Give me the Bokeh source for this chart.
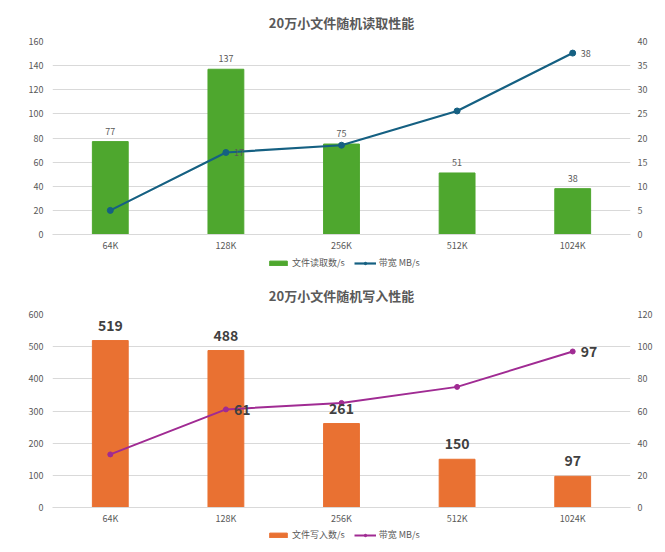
from bokeh.plotting import figure
from bokeh.models import (Range1d, LinearAxis, FixedTicker, Legend, LegendItem,
                          ColumnDataSource, FactorRange)
from bokeh.layouts import column
from bokeh.core.properties import value
from bokeh.embed import file_html
from bokeh.resources import INLINE

categories = ["64K", "128K", "256K", "512K", "1024K"]

read_title = "20万小文件随机读取性能"
read_ops = [77, 137, 75, 51, 38]
read_bw = [5, 17, 18.5, 25.6, 37.6]
read_bw_shown = [1, 4]
read_left_ticks = [0, 20, 40, 60, 80, 100, 120, 140, 160]
read_right_ticks = [0, 5, 10, 15, 20, 25, 30, 35, 40]
read_legend = ["文件读取数/s", "带宽 MB/s"]

write_title = "20万小文件随机写入性能"
write_ops = [519, 488, 261, 150, 97]
write_bw = [33, 61, 65, 75, 97]
write_bw_shown = [1, 4]
write_left_ticks = [0, 100, 200, 300, 400, 500, 600]
write_right_ticks = [0, 20, 40, 60, 80, 100, 120]
write_legend = ["文件写入数/s", "带宽 MB/s"]

FONT = "Noto Sans CJK SC"
GRID = "#d9d9d9"
TXT = "#595959"


def draw_series(p, src, bar_color, line_color, line_w, marker_size):
    bars = p.vbar(x="x", top="ops", width=0.31, source=src,
                  fill_color=bar_color, line_color=bar_color)
    ln = p.line(x="x", y="bw", source=src, y_range_name="bw",
                line_color=line_color, line_width=line_w)
    mk = p.scatter(x="x", y="bw", source=src, y_range_name="bw",
                   marker="circle", size=marker_size, fill_color=line_color,
                   line_color=line_color)
    return bars, ln, mk


def make_chart(title, ops, bw, shown, lticks, rticks, legend_labels,
               bar_color, line_color, height, top, bottom,
               lab_size, lab_style, lab_color, line_w, marker_size, standoff,
               bar_lab_off, leg_height, leg_y):
    p = figure(x_range=FactorRange(*categories, range_padding=0),
               y_range=Range1d(lticks[0], lticks[-1]),
               width=665, height=height, output_backend="svg",
               toolbar_location=None, min_border_left=52, min_border_right=35,
               min_border_top=top, min_border_bottom=bottom,
               background_fill_color="white", border_fill_color="white",
               outline_line_color=None)
    p.extra_y_ranges = {"bw": Range1d(rticks[0], rticks[-1])}

    p.title.text = title
    p.title.align = "center"
    p.title.text_font = FONT
    p.title.text_font_size = "13px"
    p.title.text_font_style = "bold"
    p.title.text_color = "#595959"
    p.title.standoff = standoff

    p.yaxis[0].ticker = FixedTicker(ticks=lticks)
    rax = LinearAxis(y_range_name="bw", ticker=FixedTicker(ticks=rticks))
    p.add_layout(rax, "right")
    for ax in [p.yaxis[0], rax, p.xaxis[0]]:
        ax.major_tick_line_color = None
        ax.minor_tick_line_color = None
        ax.major_tick_out = 0
        ax.major_tick_in = 0
        ax.minor_tick_out = 0
        ax.major_label_text_font = FONT
        ax.major_label_text_font_size = "9px"
        ax.major_label_text_color = TXT
    p.yaxis[0].axis_line_color = None
    rax.axis_line_color = None
    p.yaxis[0].major_label_standoff = 9
    rax.major_label_standoff = 7
    p.xaxis[0].axis_line_color = GRID
    p.xaxis[0].major_label_standoff = 4

    p.xgrid.grid_line_color = None
    p.ygrid.grid_line_color = GRID
    p.ygrid.grid_line_width = 1

    src = ColumnDataSource(dict(x=categories, ops=ops, bw=bw,
                                opslab=[str(v) for v in ops]))
    draw_series(p, src, bar_color, line_color, line_w, marker_size)
    p.text(x="x", y="ops", text="opslab", source=src, text_align="center",
           text_baseline="bottom", y_offset=bar_lab_off, text_font=value(FONT),
           text_font_size=lab_size, text_font_style=lab_style,
           text_color=lab_color)
    lsrc = ColumnDataSource(dict(x=[categories[i] for i in shown],
                                 y=[bw[i] for i in shown],
                                 t=[str(round(bw[i])) for i in shown]))
    p.text(x="x", y="y", text="t", source=lsrc, y_range_name="bw",
           x_offset=8, text_baseline="middle", text_align="left",
           text_font=value(FONT), text_font_size=lab_size,
           text_font_style=lab_style, text_color=lab_color)

    # legend strip below the chart: same series, drawn out of view
    q = figure(x_range=FactorRange(*categories, range_padding=0),
               y_range=Range1d(1000, 1001), width=665, height=leg_height,
               output_backend="svg", toolbar_location=None,
               x_axis_type=None, y_axis_type=None, min_border=0,
               background_fill_color="white", border_fill_color="white",
               outline_line_color=None)
    q.extra_y_ranges = {"bw": Range1d(1000, 1001)}
    q.xgrid.grid_line_color = None
    q.ygrid.grid_line_color = None
    bars, ln, mk = draw_series(q, src, bar_color, line_color, line_w,
                               marker_size)
    items = [LegendItem(label=legend_labels[0], renderers=[bars]),
             LegendItem(label=legend_labels[1], renderers=[ln, mk])]
    leg = Legend(items=items, orientation="horizontal", location=(215, leg_y),
                 glyph_width=22, glyph_height=6, label_height=10,
                 label_text_font=FONT, label_text_font_size="9px",
                 label_text_color=TXT, spacing=9, padding=0, margin=0,
                 border_line_color=None, background_fill_alpha=0,
                 label_standoff=3)
    q.add_layout(leg)
    return p, q


p1, q1 = make_chart(read_title, read_ops, read_bw, read_bw_shown,
                    read_left_ticks, read_right_ticks, read_legend,
                    "#4EA72E", "#156082", 254, 41, 20, "9px", "normal", TXT,
                    2.2, 6, 20, -7, 20, 5)
p2, q2 = make_chart(write_title, write_ops, write_bw, write_bw_shown,
                    write_left_ticks, write_right_ticks, write_legend,
                    "#E97132", "#A02B93", 253, 40, 20, "14px", "bold",
                    "#404040", 2, 5, 19, -10, 20, 6)

p = column(p1, q1, p2, q2, spacing=0)
open("out.html", "w").write(file_html(p, INLINE))
